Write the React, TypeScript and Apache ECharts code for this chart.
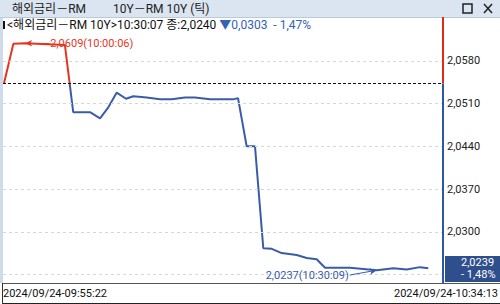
import { useEffect, useRef } from 'react';
import * as echarts from 'echarts';

// ---- data ----
const tickTimes = [
  '09:55:27', '09:56:17', '09:57:19', '10:00:50', '10:01:34', '10:03:03', '10:03:56', '10:04:40',
  '10:05:24', '10:06:14', '10:06:52', '10:08:03', '10:09:14', '10:10:16', '10:11:26', '10:12:19',
  '10:13:39', '10:15:41', '10:16:07', '10:16:53', '10:17:37', '10:18:21', '10:19:06', '10:19:58',
  '10:21:18', '10:22:11', '10:23:04', '10:23:48', '10:26:00', '10:28:22', '10:29:50', '10:31:01',
  '10:32:11', '10:32:55',
];
const tickValues = [
  2.0543, 2.0608, 2.0609, 2.0606, 2.0496, 2.0496, 2.0486, 2.0504,
  2.0528, 2.0518, 2.0522, 2.0520, 2.0517, 2.0517, 2.0520, 2.0520,
  2.0517, 2.0517, 2.0519, 2.0440, 2.0440, 2.0273, 2.0272, 2.0265,
  2.0262, 2.0257, 2.0255, 2.0241, 2.0241, 2.0237, 2.0240, 2.0238,
  2.0242, 2.0240,
];
const prevClose = 2.0543;
const yGridValues = [2.023, 2.03, 2.037, 2.044, 2.051, 2.058];
const yTickLabels = ['2,0300', '2,0370', '2,0440', '2,0510', '2,0580'];
const yAxisMin = 2.0216;
const yAxisMax = 2.0652;
const axisStartTime = '09:55:22';
const axisEndTime = '10:34:13';
const dateText = '2024/09/24';
const maxLabelTime = '10:00:06';
const minLabelTime = '10:30:09';
const lastValue = 2.0239;
const lastChangeText = '- 1,48%';
const titleLeft = '해외금리－RM';
const titleRight = '10Y－RM 10Y (틱)';
const headerMain = '<해외금리－RM 10Y>10:30:07 종:2,0240 ';
const headerChange = '▼0,0303  - 1,47%';

const FONT = "Roboto, 'Noto Sans CJK KR', sans-serif";
const RED = '#e5351f';
const BLUE = '#3a5ca8';
const AXIS_RED = '#e02a1c';
const AXIS_BLUE = '#2c57a6';
const TAG_BG = '#2f4f8c';

const ts = (hms: string) => {
  const [h, m, s] = hms.split(':').map(Number);
  return Date.UTC(2024, 8, 24, h, m, s);
};
const fmt = (v: number) => v.toFixed(4).replace('.', ',');

export default function App() {
  const ref = useRef<HTMLDivElement>(null);

  useEffect(() => {
    if (!ref.current) return;
    const chart = echarts.init(ref.current, undefined, { renderer: 'svg' });

    const points = tickTimes.map((t, i) => [ts(t), tickValues[i]]);
    const maxV = Math.max(...tickValues);
    const minV = Math.min(...tickValues);
    const maxT = ts(tickTimes[tickValues.indexOf(maxV)]);
    const minT = ts(tickTimes[tickValues.indexOf(minV)]);
    const xEnd = ts(axisEndTime);

    const gridLines: any[] = yGridValues.map((v) => ({
      yAxis: v,
      lineStyle: { color: '#d6d6d6', type: [3, 3], width: 1 },
      label: {
        show: yTickLabels.includes(fmt(v)), position: 'end', distance: 4,
        formatter: fmt(v), color: '#222', fontSize: 11, fontFamily: FONT,
      },
    }));

    const option: any = {
      animation: false,
      textStyle: { fontFamily: FONT },
      grid: { left: 3, right: 57, top: 17, bottom: 21 },
      xAxis: { type: 'time', min: ts(axisStartTime), max: xEnd, show: false },
      yAxis: {
        type: 'value', position: 'right', min: yAxisMin, max: yAxisMax, scale: true,
        axisLine: { show: false }, axisTick: { show: false }, axisLabel: { show: false }, splitLine: { show: false },
      },
      visualMap: [{
        type: 'piecewise', show: false, seriesIndex: 0, dimension: 1,
        pieces: [
          { gte: yAxisMin - 1, lt: prevClose, color: BLUE },
          { gte: prevClose, lte: yAxisMax + 1, color: RED },
        ],
      }],
      series: [
        {
          type: 'line', data: points, symbol: 'none', lineStyle: { width: 2 }, z: 3, clip: false,
          markLine: {
            silent: true, symbol: ['none', 'none'], animation: false, precision: 6,
            data: [
              ...gridLines,
              {
                yAxis: prevClose,
                lineStyle: { color: '#111', type: [3, 2], width: 1 },
                label: { show: false },
              },
              [
                { coord: [xEnd, yAxisMax], lineStyle: { color: AXIS_RED, width: 2, type: 'solid' }, label: { show: false } },
                { coord: [xEnd, prevClose] },
              ],
              [
                { coord: [xEnd, prevClose], lineStyle: { color: AXIS_BLUE, width: 2, type: 'solid' }, label: { show: false } },
                { coord: [xEnd, yAxisMin] },
              ],
              [
                {
                  coord: [maxT, maxV], symbol: 'arrow', symbolSize: [5, 7],
                  lineStyle: { color: RED, width: 1, type: 'solid' },
                  label: { show: true, position: 'end', distance: 1, formatter: `${fmt(maxV)}(${maxLabelTime})`, color: RED, fontSize: 11, fontFamily: FONT },
                },
                { coord: [maxT + 128000, maxV], symbol: 'none' },
              ],
              [
                {
                  coord: [minT - 143000, 2.0229], symbol: 'none',
                  lineStyle: { color: BLUE, width: 1, type: 'solid' },
                  label: { show: true, position: 'start', distance: 1, formatter: `${fmt(minV)}(${minLabelTime})`, color: BLUE, fontSize: 11, fontFamily: FONT },
                },
                { coord: [minT, minV], symbol: 'arrow', symbolSize: [5, 7] },
              ],
              {
                yAxis: lastValue,
                lineStyle: { color: 'rgba(0,0,0,0)', width: 0 },
                label: {
                  show: true, position: 'end', distance: 2,
                  formatter: `${fmt(lastValue)}\n${lastChangeText}`,
                  color: '#fff', fontSize: 11, lineHeight: 12, fontFamily: FONT,
                  backgroundColor: TAG_BG, padding: [1, 10, 1, 16], opacity: 1,
                },
              },
            ],
          },
        },
      ],
      graphic: [
        { type: 'rect', z: 0, shape: { x: 0, y: 0, width: 500, height: 17 }, style: { fill: '#dae5f1' } },
        { type: 'line', z: 1, shape: { x1: 0, y1: 17.5, x2: 500, y2: 17.5 }, style: { stroke: '#b9cadb', lineWidth: 1 } },
        { type: 'rect', z: 0, shape: { x: 0, y: 17, width: 3, height: 266 }, style: { fill: '#cddbea' } },
        { type: 'text', z: 10, x: 12, y: 9, style: { text: titleLeft, fill: '#222', font: `12px ${FONT}`, verticalAlign: 'middle' } },
        { type: 'text', z: 10, x: 113, y: 9, style: { text: titleRight, fill: '#222', font: `12px ${FONT}`, verticalAlign: 'middle' } },
        { type: 'rect', z: 10, shape: { x: 463, y: 4, width: 9, height: 9 }, style: { fill: 'none', stroke: '#222', lineWidth: 1.5 } },
        { type: 'line', z: 10, shape: { x1: 484, y1: 4, x2: 492, y2: 13 }, style: { stroke: '#222', lineWidth: 1.5 } },
        { type: 'line', z: 10, shape: { x1: 492, y1: 4, x2: 484, y2: 13 }, style: { stroke: '#222', lineWidth: 1.5 } },
        { type: 'rect', z: 10, shape: { x: 3, y: 21, width: 2, height: 8 }, style: { fill: '#111' } },
        {
          type: 'text', z: 10, x: 7, y: 25,
          style: {
            text: `{k|${headerMain}}{u|${headerChange}}`,
            verticalAlign: 'middle',
            rich: {
              k: { fill: '#111', font: `12px ${FONT}` },
              u: { fill: '#3462b5', font: `12px ${FONT}` },
            },
          },
        },
        { type: 'line', z: 10, shape: { x1: 2, y1: 283.5, x2: 500, y2: 283.5 }, style: { stroke: '#555', lineWidth: 1 } },
        { type: 'line', z: 10, shape: { x1: 2, y1: 303.5, x2: 500, y2: 303.5 }, style: { stroke: '#222', lineWidth: 1 } },
        { type: 'line', z: 10, shape: { x1: 2.5, y1: 283, x2: 2.5, y2: 304 }, style: { stroke: '#333', lineWidth: 1 } },
        { type: 'text', z: 10, x: 3, y: 293, style: { text: `${dateText}-${axisStartTime}`, fill: '#111', font: `11px ${FONT}`, verticalAlign: 'middle' } },
        { type: 'text', z: 10, x: 498, y: 293, style: { text: `${dateText}-${axisEndTime}`, fill: '#111', font: `11px ${FONT}`, verticalAlign: 'middle', align: 'right' } },
      ],
    };

    chart.setOption(option);
    return () => chart.dispose();
  }, []);

  return (
    <div
      ref={ref}
      style={{ position: 'fixed', left: 0, top: 0, width: 500, height: 304, background: '#fff' }}
    />
  );
}
